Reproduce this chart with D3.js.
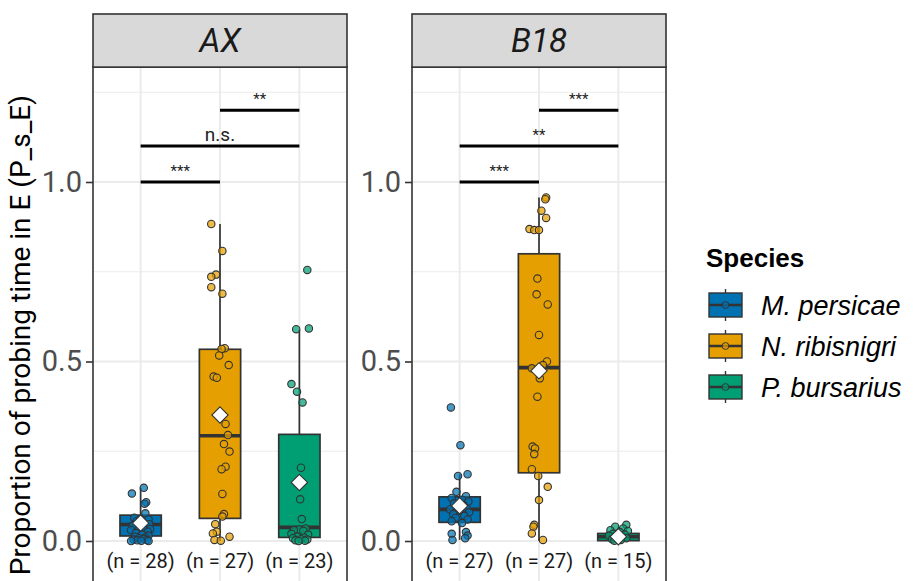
<!DOCTYPE html>
<html>
<head>
<meta charset="utf-8">
<script src="https://cdn.jsdelivr.net/npm/d3@7"></script>
<style>
  body { margin: 0; background: #fff; }
  svg { display: block; }
</style>
</head>
<body>
<svg id="chart" width="914" height="581"></svg>
<script>
// ---- data ----
const species = ["M. persicae", "N. ribisnigri", "P. bursarius"];
const colors = ["#0072B2", "#E69F00", "#009E73"];
const isolates = ["AX", "B18"];
const nCounts = [[28, 27, 23], [27, 27, 15]];
const yTicks = [0, 0.5, 1.0];
const yMinor = [0.25, 0.75, 1.25];

// box stats: [lower whisker, q1, median, q3, upper whisker, mean]
const statsAX = [
  [0, 0.014, 0.046, 0.072, 0.148, 0.05],
  [0, 0.063, 0.293, 0.534, 0.883, 0.351],
  [0, 0.010, 0.038, 0.297, 0.588, 0.163]
];
const statsB18 = [
  [0.003, 0.052, 0.088, 0.123, 0.186, 0.098],
  [0, 0.190, 0.483, 0.800, 0.957, 0.474],
  [0, 0.001, 0.012, 0.021, 0.040, 0.012]
];

// raw points: [value, jitter (in category units)]
const ptsAX_mp = [[0.148,0.04],[0.132,-0.11],[0.108,0.07],[0.104,0.05],[0.077,0.06],[0.065,-0.08],[0.06,0.1],
  [0.055,-0.05],[0.05,0.0],[0.047,0.11],[0.043,-0.1],[0.038,0.03],[0.033,0.12],[0.03,-0.12],[0.026,0.09],
  [0.022,-0.06],[0.018,0.02],[0.015,0.1],[0.012,-0.07],[0.01,0.06],[0.008,-0.02],[0.006,0.04],[0.004,-0.09],
  [0.003,0.08],[0.002,-0.04],[0.001,0.01],[0,-0.12],[0,0.1]];
const ptsAX_nr = [[0.883,-0.11],[0.808,0.03],[0.742,-0.05],[0.736,-0.11],[0.707,-0.11],[0.689,0.03],[0.537,0.06],
  [0.535,0.02],[0.517,-0.01],[0.49,0.11],[0.458,-0.08],[0.455,-0.04],[0.326,0.07],[0.295,0.1],[0.27,0.05],
  [0.249,0.12],[0.207,0.07],[0.2,0.02],[0.131,0.03],[0.075,0.05],[0.068,0.03],[0.047,-0.06],[0.026,-0.04],
  [0.021,-0.09],[0.012,0.12],[0.003,-0.07],[0.001,0.01]];
const ptsAX_pb = [[0.755,0.1],[0.592,0.12],[0.59,-0.04],[0.437,-0.1],[0.416,-0.03],[0.386,0.04],[0.204,0.02],
  [0.116,0.01],[0.061,0.03],[0.035,0.08],[0.032,0.0],[0.03,-0.07],[0.028,0.05],[0.02,-0.1],[0.018,0.11],
  [0.012,-0.03],[0.01,0.06],[0.008,-0.08],[0.005,0.02],[0.004,0.1],[0.002,-0.05],[0.001,0.07],[0,-0.01]];
const ptsB18_mp = [[0.372,-0.11],[0.267,0.01],[0.186,0.1],[0.181,-0.02],[0.137,-0.04],[0.125,0.08],[0.12,-0.1],
  [0.115,0.03],[0.11,0.11],[0.105,-0.07],[0.1,0.05],[0.095,-0.03],[0.09,0.09],[0.088,-0.12],[0.085,0.0],
  [0.08,0.12],[0.075,-0.08],[0.07,0.06],[0.065,-0.05],[0.06,0.1],[0.055,-0.1],[0.05,0.03],[0.025,0.08],
  [0.02,-0.1],[0.015,0.1],[0.008,0.07],[0.003,-0.09]];
const ptsB18_nr = [[0.957,0.09],[0.952,0.08],[0.92,0.03],[0.9,0.09],[0.869,-0.12],[0.866,-0.06],[0.866,0.0],
  [0.731,-0.02],[0.687,-0.03],[0.659,0.11],[0.574,0.0],[0.5,0.1],[0.49,0.05],[0.481,-0.09],[0.453,0.01],
  [0.402,-0.02],[0.263,-0.08],[0.258,-0.05],[0.242,-0.06],[0.2,-0.09],[0.181,-0.01],[0.151,0.11],[0.114,0.0],
  [0.045,-0.06],[0.04,-0.07],[0.021,-0.09],[0.003,0.05]];
const ptsB18_pb = [[0.045,0.1],[0.04,-0.04],[0.035,0.06],[0.03,-0.1],[0.028,0.12],[0.025,0.02],[0.02,-0.07],
  [0.018,0.08],[0.015,-0.12],[0.012,0.04],[0.01,-0.02],[0.008,0.1],[0.005,-0.08],[0.003,0.03],[0.001,-0.05]];

// significance brackets: [from, to, height, label]
const sigAX = [[0, 1, 1.0, "***"], [0, 2, 1.1, "n.s."], [1, 2, 1.2, "**"]];
const sigB18 = [[0, 1, 1.0, "***"], [0, 2, 1.1, "**"], [1, 2, 1.2, "***"]];

const panels = [
  { name: isolates[0], x0: 93, x1: 347, stats: statsAX, pts: [ptsAX_mp, ptsAX_nr, ptsAX_pb], sig: sigAX, n: nCounts[0] },
  { name: isolates[1], x0: 412, x1: 666, stats: statsB18, pts: [ptsB18_mp, ptsB18_nr, ptsB18_pb], sig: sigB18, n: nCounts[1] }
];

const svg = d3.select("#chart");
const font = "Roboto, 'Noto Sans', sans-serif";
const dark = "#333333";

const y = d3.scaleLinear().domain([0, 1]).range([541, 182]);
const panelTop = y(1.32);
const panelBottom = y(-0.16);
const stripTop = 14;

panels.forEach(p => {
  const x = d3.scalePoint().domain(species).range([p.x0, p.x1]).padding(0.6);
  const step = x.step();
  const g = svg.append("g");

  // panel background + grid
  g.append("rect").attr("x", p.x0).attr("y", panelTop)
    .attr("width", p.x1 - p.x0).attr("height", panelBottom - panelTop).attr("fill", "#fff");
  g.selectAll(".minor").data(yMinor).join("line")
    .attr("x1", p.x0).attr("x2", p.x1).attr("y1", d => y(d)).attr("y2", d => y(d))
    .attr("stroke", "#ebebeb").attr("stroke-width", 1);
  g.selectAll(".major").data(yTicks).join("line")
    .attr("x1", p.x0).attr("x2", p.x1).attr("y1", d => y(d)).attr("y2", d => y(d))
    .attr("stroke", "#ebebeb").attr("stroke-width", 2);
  g.selectAll(".vgrid").data(species).join("line")
    .attr("x1", d => x(d)).attr("x2", d => x(d)).attr("y1", panelTop).attr("y2", panelBottom)
    .attr("stroke", "#ebebeb").attr("stroke-width", 2);

  // boxes
  p.stats.forEach((s, i) => {
    const cx = x(species[i]);
    const hw = step * 0.26;
    const bg = g.append("g");
    bg.append("line").attr("x1", cx).attr("x2", cx).attr("y1", y(s[0])).attr("y2", y(s[4]))
      .attr("stroke", dark).attr("stroke-width", 1.7);
    bg.append("rect").attr("x", cx - hw).attr("width", hw * 2)
      .attr("y", y(s[3])).attr("height", Math.max(1, y(s[1]) - y(s[3])))
      .attr("fill", colors[i]).attr("stroke", dark).attr("stroke-width", 1.7);
    bg.append("line").attr("x1", cx - hw).attr("x2", cx + hw).attr("y1", y(s[2])).attr("y2", y(s[2]))
      .attr("stroke", dark).attr("stroke-width", 3.6);
  });

  // jittered points
  p.pts.forEach((arr, i) => {
    const cx = x(species[i]);
    g.append("g").selectAll("circle").data(arr).join("circle")
      .attr("cx", d => cx + d[1] * step).attr("cy", d => y(d[0])).attr("r", 3.7)
      .attr("fill", colors[i]).attr("fill-opacity", 0.72)
      .attr("stroke", dark).attr("stroke-width", 1.1);
  });

  // means
  g.append("g").selectAll("path").data(p.stats).join("path")
    .attr("d", d3.symbol(d3.symbolDiamond2, 170)())
    .attr("transform", (d, i) => `translate(${x(species[i])},${y(d[5])})`)
    .attr("fill", "#fff").attr("stroke", dark).attr("stroke-width", 1.1);

  // significance brackets
  p.sig.forEach(s => {
    const xa = x(species[s[0]]), xb = x(species[s[1]]);
    g.append("line").attr("x1", xa).attr("x2", xb).attr("y1", y(s[2])).attr("y2", y(s[2]))
      .attr("stroke", "#000").attr("stroke-width", 3);
    const isStar = s[3].indexOf("*") >= 0;
    g.append("text").attr("x", (xa + xb) / 2).attr("y", y(s[2]) - (isStar ? 6 : 5))
      .attr("text-anchor", "middle").attr("font-family", font)
      .attr("font-size", isStar ? 15 : 19).attr("fill", "#222").text(s[3]);
  });

  // n labels
  g.selectAll(".nlab").data(p.n).join("text")
    .attr("x", (d, i) => x(species[i])).attr("y", y(-0.056))
    .attr("dy", "0.36em").attr("text-anchor", "middle")
    .attr("font-family", font).attr("font-size", 20).attr("fill", "#1a1a1a")
    .text(d => `(n = ${d})`);

  // panel border
  g.append("rect").attr("x", p.x0).attr("y", panelTop)
    .attr("width", p.x1 - p.x0).attr("height", panelBottom - panelTop)
    .attr("fill", "none").attr("stroke", dark).attr("stroke-width", 1.6);

  // strip
  g.append("rect").attr("x", p.x0).attr("y", stripTop)
    .attr("width", p.x1 - p.x0).attr("height", panelTop - stripTop)
    .attr("fill", "#d9d9d9").attr("stroke", dark).attr("stroke-width", 1.6);
  g.append("text").attr("x", (p.x0 + p.x1) / 2).attr("y", (stripTop + panelTop) / 2)
    .attr("dy", "0.36em").attr("text-anchor", "middle")
    .attr("font-family", font).attr("font-style", "italic").attr("font-size", 33)
    .attr("fill", "#1a1a1a").text(p.name);

  // y axis
  const ax = g.append("g").attr("transform", `translate(${p.x0},0)`)
    .call(d3.axisLeft(y).tickValues(yTicks).tickFormat(d3.format(".1f")).tickSize(7).tickPadding(4));
  ax.select(".domain").remove();
  ax.selectAll(".tick line").attr("stroke", dark).attr("stroke-width", 1.6);
  ax.selectAll(".tick text").attr("font-family", font).attr("font-size", 29).attr("fill", "#4d4d4d");
});

// y axis title
svg.append("text")
  .attr("transform", "translate(30,95) rotate(-90)")
  .attr("text-anchor", "end")
  .attr("font-family", font).attr("font-size", 28).attr("fill", "#000")
  .text("Proportion of probing time in E (P_s_E)");

// legend
const lg = svg.append("g").attr("transform", "translate(706,0)");
const lgFont = "'Liberation Sans', Arial, sans-serif";
lg.append("text").attr("x", 0).attr("y", 267)
  .attr("font-family", lgFont).attr("font-weight", "bold").attr("font-size", 26)
  .attr("fill", "#000").text("Species");
species.forEach((s, i) => {
  const cy = 305 + i * 41;
  const k = lg.append("g").attr("transform", `translate(3,${cy})`);
  k.append("line").attr("x1", 16.5).attr("x2", 16.5).attr("y1", -16).attr("y2", 16)
    .attr("stroke", dark).attr("stroke-width", 1.4);
  k.append("rect").attr("x", 0).attr("y", -12).attr("width", 33).attr("height", 24)
    .attr("fill", colors[i]).attr("stroke", dark).attr("stroke-width", 1.4);
  k.append("line").attr("x1", 0).attr("x2", 33).attr("y1", 0).attr("y2", 0)
    .attr("stroke", dark).attr("stroke-width", 2.4);
  k.append("circle").attr("cx", 16.5).attr("cy", 0).attr("r", 3.4)
    .attr("fill", colors[i]).attr("fill-opacity", 0.7).attr("stroke", dark).attr("stroke-width", 1);
  lg.append("text").attr("x", 55).attr("y", cy).attr("dy", "0.36em")
    .attr("font-family", lgFont).attr("font-style", "italic").attr("font-size", 27)
    .attr("fill", "#000").text(s);
});
</script>
</body>
</html>
